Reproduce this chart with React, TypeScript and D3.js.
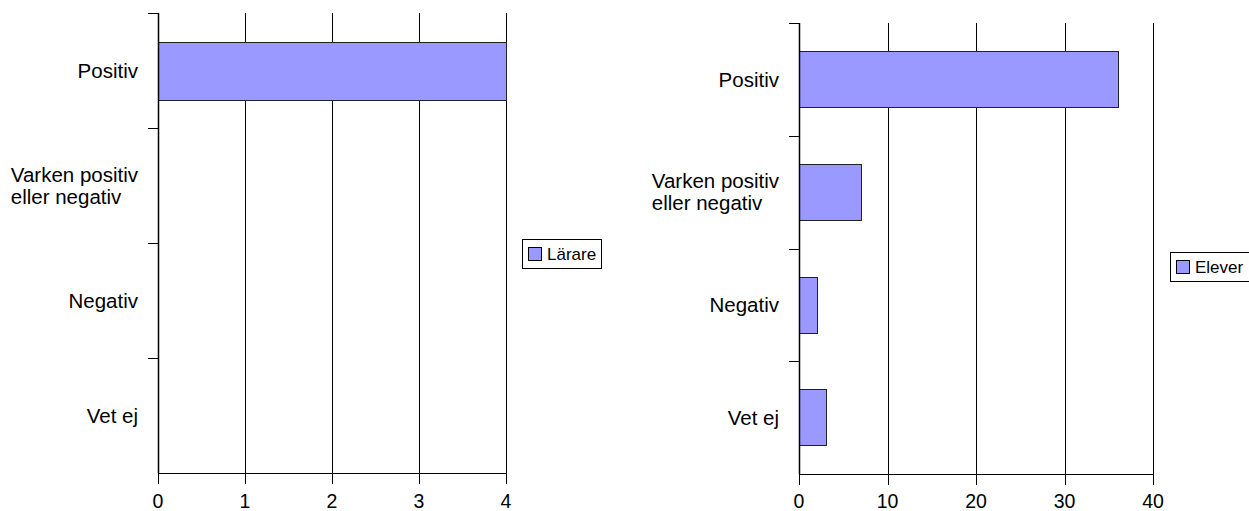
import React from "react";
import * as d3 from "d3";

const categories: string[] = ["Positiv", "Varken positiv\neller negativ", "Negativ", "Vet ej"];
const lararValues: number[] = [4, 0, 0, 0];
const eleverValues: number[] = [36, 7, 2, 3];
const lararTicks: number[] = [0, 1, 2, 3, 4];
const eleverTicks: number[] = [0, 10, 20, 30, 40];
const lararName = "Lärare";
const eleverName = "Elever";

const FONT = "'Liberation Sans', Arial, sans-serif";
const BAR_FILL = "#9999FF";
const CAT_SIZE = 20.5;

let measureCtx: CanvasRenderingContext2D | null = null;
function textWidth(s: string, size: number): number {
  if (!measureCtx) {
    const c = document.createElement("canvas");
    measureCtx = c.getContext("2d");
  }
  if (!measureCtx) return s.length * size * 0.5;
  measureCtx.font = `${size}px ${FONT}`;
  return measureCtx.measureText(s).width;
}

type PanelProps = {
  x0: number;
  x1: number;
  top: number;
  bottom: number;
  values: number[];
  ticks: number[];
  name: string;
  legendX: number;
  legendY: number;
  legendW: number;
};

function Panel({ x0, x1, top, bottom, values, ticks, name, legendX, legendY, legendW }: PanelProps) {
  const x = d3.scaleLinear().domain([ticks[0], ticks[ticks.length - 1]]).range([x0, x1]);
  const y = d3
    .scaleBand<string>()
    .domain(categories)
    .range([top, bottom])
    .paddingInner(0.5)
    .paddingOuter(0.25);
  const step = y.step();
  const boundaries = categories.map((_, i) => top + i * step);
  const crisp = (v: number) => Math.round(v) + 0.5;

  return (
    <g>
      {ticks.map((t) => (
        <line
          key={"g" + t}
          x1={crisp(x(t))}
          x2={crisp(x(t))}
          y1={top}
          y2={bottom + 11}
          stroke="#000"
          strokeWidth={1}
        />
      ))}
      <line x1={x0} x2={crisp(x1)} y1={crisp(bottom)} y2={crisp(bottom)} stroke="#000" />
      {boundaries.map((b, i) => (
        <line key={"c" + i} x1={x0 - 10} x2={x0} y1={crisp(b)} y2={crisp(b)} stroke="#000" />
      ))}
      {categories.map((c, i) =>
        values[i] > 0 ? (
          <rect
            key={"b" + i}
            x={crisp(x(0))}
            y={crisp(y(c)!)}
            width={Math.round(x(values[i]) - x(0))}
            height={Math.round(y.bandwidth())}
            fill={BAR_FILL}
            stroke="#222"
            strokeWidth={1}
          />
        ) : null
      )}
      <line x1={crisp(x0)} x2={crisp(x0)} y1={top} y2={bottom} stroke="#000" strokeWidth={1.5} />
      {ticks.map((t) => (
        <text
          key={"t" + t}
          x={x(t)}
          y={508}
          textAnchor="middle"
          fontFamily={FONT}
          fontSize={19.5}
          fill="#000"
        >
          {t}
        </text>
      ))}
      {categories.map((c, i) => {
        const lines = c.split("\n");
        const cy = y(c)! + y.bandwidth() / 2;
        const lh = 22;
        const startY = cy - ((lines.length - 1) * lh) / 2;
        const maxW = Math.max(...lines.map((ln) => textWidth(ln, CAT_SIZE)));
        const lx = x0 - 20 - maxW;
        return (
          <text key={"l" + i} x={lx} textAnchor="start" fontFamily={FONT} fontSize={CAT_SIZE} fill="#000">
            {lines.map((ln, j) => (
              <tspan key={j} x={lx} y={startY + j * lh} dy="0.35em">
                {ln}
              </tspan>
            ))}
          </text>
        );
      })}
      <rect x={legendX + 0.5} y={legendY + 0.5} width={legendW} height={29} fill="#fff" stroke="#000" />
      <rect x={legendX + 6.5} y={legendY + 8.5} width={13} height={13} fill={BAR_FILL} stroke="#000" />
      <text x={legendX + 25} y={legendY + 15} dy="0.35em" fontFamily={FONT} fontSize={17} fill="#000">
        {name}
      </text>
    </g>
  );
}

export default function App() {
  return (
    <svg
      width={1249}
      height={511}
      style={{ position: "absolute", left: 0, top: 0, background: "#fff" }}
    >
      <rect x={0} y={0} width={1249} height={511} fill="#fff" />
      <Panel
        x0={158}
        x1={506}
        top={13}
        bottom={473}
        values={lararValues}
        ticks={lararTicks}
        name={lararName}
        legendX={522}
        legendY={239}
        legendW={79}
      />
      <Panel
        x0={799}
        x1={1153}
        top={23}
        bottom={474}
        values={eleverValues}
        ticks={eleverTicks}
        name={eleverName}
        legendX={1170}
        legendY={252}
        legendW={82}
      />
    </svg>
  );
}
